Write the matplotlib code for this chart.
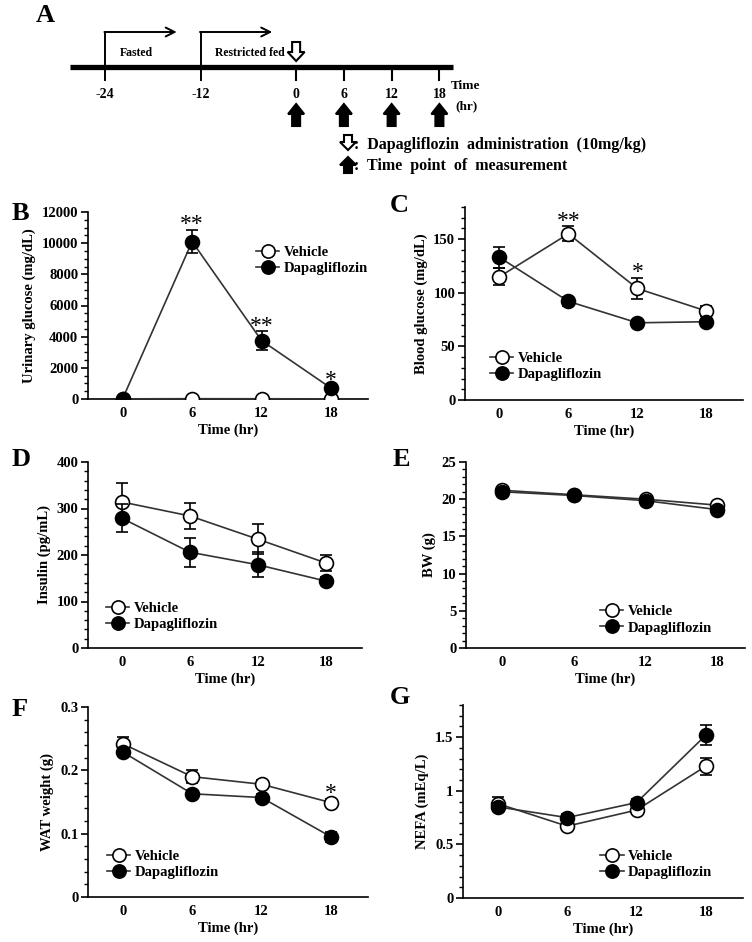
import matplotlib
matplotlib.use("Agg")
import matplotlib.pyplot as plt
from matplotlib.lines import Line2D
from matplotlib.patches import Polygon
from matplotlib.ticker import MultipleLocator

plt.rcParams['font.family'] = ['Liberation Serif', 'DejaVu Serif']
plt.rcParams['font.weight'] = 'bold'
plt.rcParams['axes.labelweight'] = 'bold'

W, H = 752, 942

# ---- data -------------------------------------------------------------
hours = [0, 6, 12, 18]

# timeline schematic (panel A)
timeline_ticks = [-24, -12, 0, 6, 12, 18]
phase_starts = [-24, -12]
phase_labels = ['Fasted', 'Restricted fed']
dose_time = 0
measure_times = [0, 6, 12, 18]

# B: urinary glucose (mg/dL)
ug_veh = [10, 20, 15, 10]
ug_veh_err = [5, 10, 10, 5]
ug_dapa = [30, 10100, 3750, 700]
ug_dapa_err = [20, 750, 600, 150]

# C: blood glucose (mg/dL)
bg_veh = [115, 155, 104, 83]
bg_veh_err = [8, 7, 10, 5]
bg_dapa = [133, 92, 72, 73]
bg_dapa_err = [10, 4, 3, 3]

# D: insulin (pg/mL)
ins_veh = [314, 284, 234, 183]
ins_veh_err = [40, 28, 32, 18]
ins_dapa = [279, 206, 179, 144]
ins_dapa_err = [30, 31, 27, 8]

# E: body weight (g)
bw_veh = [21.2, 20.6, 20.0, 19.2]
bw_veh_err = [0.3, 0.3, 0.3, 0.3]
bw_dapa = [21.0, 20.5, 19.8, 18.6]
bw_dapa_err = [0.3, 0.3, 0.3, 0.3]

# F: WAT weight (g)
wat_veh = [0.242, 0.190, 0.178, 0.149]
wat_veh_err = [0.010, 0.010, 0.006, 0.006]
wat_dapa = [0.229, 0.163, 0.157, 0.095]
wat_dapa_err = [0.006, 0.006, 0.006, 0.008]

# G: NEFA (mEq/L)
nefa_veh = [0.88, 0.67, 0.82, 1.23]
nefa_veh_err = [0.06, 0.02, 0.03, 0.08]
nefa_dapa = [0.85, 0.75, 0.89, 1.52]
nefa_dapa_err = [0.04, 0.03, 0.03, 0.09]


def px_rect(left, top, right, bottom):
    return [left / W, 1 - bottom / H, (right - left) / W, (bottom - top) / H]


fig = plt.figure(figsize=(W / 100, H / 100), dpi=100)

# ---- panel A: protocol schematic -------------------------------------
axA = fig.add_axes([0, 1 - 180 / H, 1, 180 / H])
x0, x1 = -37.2, 57.27
axA.set_xlim(x0, x1)
axA.set_ylim(180, 0)
axA.axis('off')
pph = W / (x1 - x0)


def hx(px):
    return x0 + px / pph


def block_arrow(ax, t, y_tip, up, filled, hw=8, sw=4, hl=10, length=22):
    pts = [(0, 0), (hw, hl), (sw, hl), (sw, length), (-sw, length), (-sw, hl), (-hw, hl)]
    sign = 1 if up else -1
    xy = [(t + dx / pph, y_tip + sign * dy) for dx, dy in pts]
    ax.add_patch(Polygon(xy, closed=True, fc='black' if filled else 'white',
                         ec='black', lw=1.5, joinstyle='miter'))


axA.text(hx(36), 16, 'A', fontsize=19, ha='left', va='center')
axA.plot([hx(70), hx(453)], [67, 67], color='black', lw=3.8, solid_capstyle='butt')
for t in measure_times:
    axA.plot([t, t], [67, 80], color='black', lw=1.5)
for t, lab in zip(phase_starts, phase_labels):
    axA.plot([t, t], [80, 32], color='black', lw=1.4)
    axA.annotate('', xy=(t + 9.0, 32), xytext=(t - 0.08, 32),
                 arrowprops=dict(arrowstyle='->', lw=1.4, color='black',
                                 shrinkA=0, shrinkB=0, mutation_scale=16))
    axA.text(t + 1.8, 53, lab, fontsize=8.5, ha='left', va='center')
for t in timeline_ticks:
    axA.text(t, 95, str(t), fontsize=10, ha='center', va='center')
axA.text(hx(466), 86, 'Time', fontsize=9.5, ha='center', va='center')
axA.text(hx(466), 106, '(hr)', fontsize=9.5, ha='center', va='center')
block_arrow(axA, dose_time, 61, up=False, filled=False, hw=8.5, sw=4, hl=9, length=19)
for t in measure_times:
    block_arrow(axA, t, 104, up=True, filled=True)
block_arrow(axA, hx(348), 150, up=False, filled=False, hw=8, sw=4, hl=8, length=15)
block_arrow(axA, hx(348), 157, up=True, filled=True, hw=8, sw=4, hl=8, length=16)
axA.text(hx(354), 145, ':  Dapagliflozin  administration  (10mg/kg)', fontsize=11.5,
         ha='left', va='center')
axA.text(hx(354), 166, ':  Time  point  of  measurement', fontsize=11.5,
         ha='left', va='center')

# ---- panels B-G ------------------------------------------------------
leg_handles = [
    Line2D([], [], color='#333333', lw=1.2, marker='o', ms=9.5, mfc='white',
           mec='black', mew=1.2),
    Line2D([], [], color='#333333', lw=1.2, marker='o', ms=9.5, mfc='black',
           mec='black', mew=1.2),
]
leg_labels = ['Vehicle', 'Dapagliflozin']


def draw_panel(rect, letter, letter_xy, veh, veh_err, dapa, dapa_err, ylabel,
               ylim, major, minor, yfmt, leg_anchor, stars=None, xlim=(-3, 21.2)):
    ax = fig.add_axes(px_rect(*rect))
    ax.errorbar(hours, veh, yerr=veh_err, color='#333333', lw=1.2, marker='o',
                ms=10, mfc='white', mec='black', mew=1.2, ecolor='black',
                elinewidth=1.2, capsize=4, capthick=1.2, zorder=3)
    ax.errorbar(hours, dapa, yerr=dapa_err, color='#333333', lw=1.2, marker='o',
                ms=10, mfc='black', mec='black', mew=1.2, ecolor='black',
                elinewidth=1.2, capsize=4, capthick=1.2, zorder=4)
    ax.set_xlim(*xlim)
    ax.set_ylim(*ylim)
    ax.set_xticks(hours)
    ax.yaxis.set_major_locator(MultipleLocator(major))
    ax.yaxis.set_minor_locator(MultipleLocator(minor))
    ax.yaxis.set_major_formatter(yfmt)
    for s in ['top', 'right']:
        ax.spines[s].set_visible(False)
    for s in ['left', 'bottom']:
        ax.spines[s].set_linewidth(1.2)
    ax.tick_params(axis='y', which='major', direction='out', length=5, width=1.2,
                   labelsize=10.5, pad=2)
    ax.tick_params(axis='y', which='minor', direction='out', length=3, width=1)
    ax.tick_params(axis='x', length=0, labelsize=10.5, pad=6)
    ax.set_xlabel('Time (hr)', fontsize=10.5, labelpad=2)
    ax.set_ylabel(ylabel, fontsize=10.5, labelpad=4)
    ax.legend(leg_handles, leg_labels, loc='upper left', bbox_to_anchor=leg_anchor,
              frameon=False, fontsize=10.5, handlelength=1.6, handletextpad=0.3,
              labelspacing=0.2, borderaxespad=0, borderpad=0)
    if stars:
        for i, s in stars:
            top = max(veh[i] + veh_err[i], dapa[i] + dapa_err[i])
            ax.annotate(s, xy=(hours[i], top), xytext=(0, -4), textcoords='offset points',
                        ha='center', va='bottom', fontsize=17, fontweight='normal')
    fig.text(letter_xy[0] / W, 1 - letter_xy[1] / H, letter, fontsize=19,
             ha='left', va='center')
    return ax


draw_panel((88, 212, 368, 399), 'B', (12, 213), ug_veh, ug_veh_err, ug_dapa, ug_dapa_err,
           'Urinary glucose (mg/dL)', (0, 12000), 2000, 500, '{x:.0f}',
           (0.60, 0.82), stars=[(1, '**'), (2, '**'), (3, '*')])
draw_panel((465, 207, 743, 400), 'C', (390, 205), bg_veh, bg_veh_err, bg_dapa, bg_dapa_err,
           'Blood glucose (mg/dL)', (0, 180), 50, 10, '{x:.0f}',
           (0.09, 0.25), stars=[(1, '**'), (2, '*')])
draw_panel((88, 462, 362, 648), 'D', (12, 460), ins_veh, ins_veh_err, ins_dapa, ins_dapa_err,
           'Insulin (pg/mL)', (0, 400), 100, 20, '{x:.0f}', (0.066, 0.25))
draw_panel((466, 462, 745, 648), 'E', (393, 460), bw_veh, bw_veh_err, bw_dapa, bw_dapa_err,
           'BW (g)', (0, 25), 5, 1, '{x:.0f}', (0.48, 0.23), xlim=(-3, 20.3))
draw_panel((88, 707, 368, 897), 'F', (12, 710), wat_veh, wat_veh_err, wat_dapa, wat_dapa_err,
           'WAT weight (g)', (0, 0.3), 0.1, 0.02, lambda v, p: '0' if v == 0 else f'{v:.1f}',
           (0.068, 0.25), stars=[(3, '*')])
draw_panel((463, 705, 743, 898), 'G', (390, 697), nefa_veh, nefa_veh_err, nefa_dapa, nefa_dapa_err,
           'NEFA (mEq/L)', (0, 1.8), 0.5, 0.1, lambda v, p: f'{v:g}', (0.49, 0.25))

fig.savefig('out.png', dpi=100)
